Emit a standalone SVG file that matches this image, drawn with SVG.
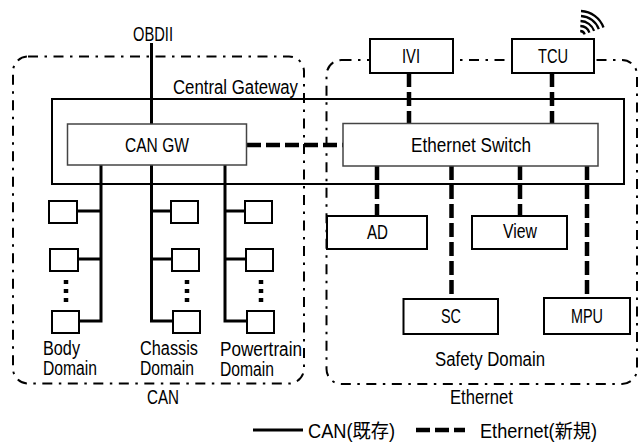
<svg xmlns="http://www.w3.org/2000/svg" width="639" height="444" viewBox="0 0 639 444">
<style>
text{font-family:"Liberation Sans","Noto Sans CJK JP",sans-serif;font-size:19.5px;fill:#000}
.r{fill:none;stroke:#000;stroke-width:2;stroke-dasharray:10 6.500 2.500 6.500}
.b{fill:#fff;stroke:#000;stroke-width:2}
.g{fill:#fff;stroke:#444;stroke-width:1.5}
.s{fill:none;stroke:#000;stroke-width:3}
.d{fill:none;stroke:#000;stroke-width:4.500;stroke-dasharray:14 5}
.v{fill:none;stroke:#000;stroke-width:4.500}
.w{fill:none;stroke:#000;stroke-width:2.300}
</style>
<rect width="639" height="444" fill="#fff"/>
<g id="region-can"><rect class="r" x="13" y="56.500" width="291" height="327" rx="15"/></g>
<g id="region-ethernet"><rect class="r" x="326.500" y="60" width="310.500" height="324" rx="15"/></g>
<g id="central-gateway"><rect x="52" y="99" width="572" height="85" fill="none" stroke="#000" stroke-width="2"/><text x="173" y="94" textLength="125" lengthAdjust="spacingAndGlyphs">Central Gateway</text></g>
<g id="connectors">
<path class="s" d="M151.500 43V124M101 165V321H79M101 211H77M101 259H78M151.500 165V321H173M151.500 211H171M151.500 259H172M225 165V321H247M225 211H245M225 259H246M253 430H303"/>
<path class="d" d="M247 145H343M409 73V124M552 73V124M377 166V216M451.500 166V299M520 166V216M587 166V298M416 430H465"/>
</g>
<g id="can-gw"><rect class="g" x="67.500" y="124" width="179" height="41"/><text x="125" y="152" textLength="64" lengthAdjust="spacingAndGlyphs">CAN GW</text></g>
<g id="ethernet-switch"><rect class="g" x="343" y="123.500" width="255" height="42.500"/><text x="411" y="152" textLength="120" lengthAdjust="spacingAndGlyphs">Ethernet Switch</text></g>
<g id="obdii"><text x="133" y="41" textLength="40" lengthAdjust="spacingAndGlyphs">OBDII</text></g>
<g id="ivi"><rect class="b" x="370" y="39" width="83" height="34"/><text x="402" y="63" textLength="18" lengthAdjust="spacingAndGlyphs">IVI</text></g>
<g id="tcu"><rect class="b" x="512" y="39" width="82" height="34"/><text x="538" y="63" textLength="30" lengthAdjust="spacingAndGlyphs">TCU</text>
<path class="w" d="M581 11A25 25 0 0 1 603.500 27.500M581 16A20 20 0 0 1 598.800 29.200M580.500 21A15 15 0 0 1 594.100 30.900M580.300 26A10 10 0 0 1 589.400 32.600M580.200 31A5 5 0 0 1 584.700 34.300"/></g>
<g id="ad"><rect class="b" x="327" y="216" width="100" height="33"/><text x="367" y="239" textLength="21" lengthAdjust="spacingAndGlyphs">AD</text></g>
<g id="view"><rect class="b" x="472" y="216" width="95" height="33"/><text x="503" y="238" textLength="34" lengthAdjust="spacingAndGlyphs">View</text></g>
<g id="sc"><rect class="b" x="403.500" y="299" width="94.500" height="35"/><text x="441" y="323" textLength="20" lengthAdjust="spacingAndGlyphs">SC</text></g>
<g id="mpu"><rect class="b" x="544" y="298" width="86" height="36"/><text x="571" y="323" textLength="32" lengthAdjust="spacingAndGlyphs">MPU</text></g>
<g id="body-domain">
<rect class="b" x="49" y="201" width="28" height="22"/><rect class="b" x="50" y="249" width="28" height="22"/><rect class="b" x="52" y="311" width="27" height="22"/>
<path class="v" d="M66 280v4M66 289v4M66 298v4"/>
<text x="43" y="355" textLength="37" lengthAdjust="spacingAndGlyphs">Body</text><text x="43" y="375" textLength="54" lengthAdjust="spacingAndGlyphs">Domain</text></g>
<g id="chassis-domain">
<rect class="b" x="171" y="201" width="27" height="22"/><rect class="b" x="172" y="249" width="27" height="22"/><rect class="b" x="173" y="311" width="27" height="22"/>
<path class="v" d="M187 280v4M187 289v4M187 298v4"/>
<text x="140" y="355" textLength="58" lengthAdjust="spacingAndGlyphs">Chassis</text><text x="140" y="375" textLength="54" lengthAdjust="spacingAndGlyphs">Domain</text></g>
<g id="powertrain-domain">
<rect class="b" x="245" y="201" width="27" height="22"/><rect class="b" x="246" y="249" width="27" height="22"/><rect class="b" x="247" y="311" width="27" height="22"/>
<path class="v" d="M261 280v4M261 289v4M261 298v4"/>
<text x="220" y="356" textLength="82" lengthAdjust="spacingAndGlyphs">Powertrain</text><text x="220" y="376" textLength="54" lengthAdjust="spacingAndGlyphs">Domain</text></g>
<text x="435" y="366" textLength="110" lengthAdjust="spacingAndGlyphs">Safety Domain</text>
<text x="147" y="404" textLength="32" lengthAdjust="spacingAndGlyphs">CAN</text>
<text x="450" y="404" textLength="63" lengthAdjust="spacingAndGlyphs">Ethernet</text>
<text x="308" y="438" textLength="87" lengthAdjust="spacingAndGlyphs">CAN(既存)</text>
<text x="480" y="438" textLength="117" lengthAdjust="spacingAndGlyphs">Ethernet(新規)</text>
</svg>
